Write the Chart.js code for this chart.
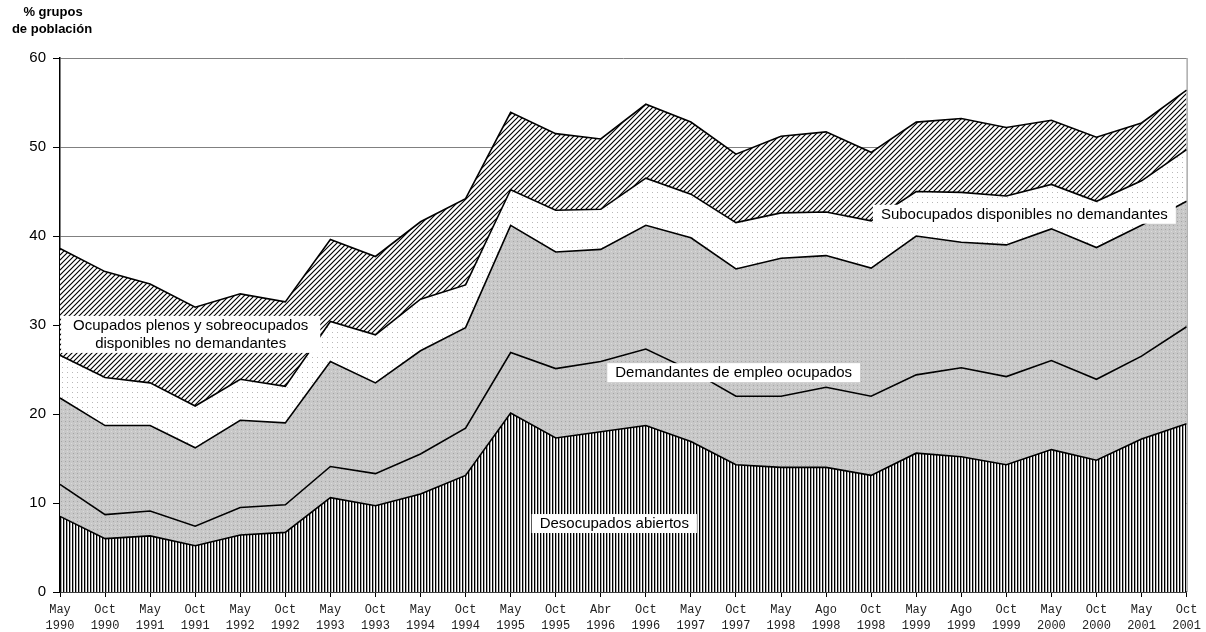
<!DOCTYPE html>
<html>
<head>
<meta charset="utf-8">
<script src="https://cdn.jsdelivr.net/npm/chart.js@4/dist/chart.umd.min.js"></script>
<style>
  html, body { margin: 0; padding: 0; background: #fff; }
  #wrap { width: 1206px; height: 632px; }
</style>
</head>
<body>
<div id="wrap"><canvas id="grafico"></canvas></div>
<script>
// Periodos de la encuesta (dos líneas por etiqueta)
const periodos = [
    ['May', '1990'], ['Oct', '1990'], ['May', '1991'], ['Oct', '1991'],
    ['May', '1992'], ['Oct', '1992'], ['May', '1993'], ['Oct', '1993'],
    ['May', '1994'], ['Oct', '1994'], ['May', '1995'], ['Oct', '1995'],
    ['Abr', '1996'], ['Oct', '1996'], ['May', '1997'], ['Oct', '1997'],
    ['May', '1998'], ['Ago', '1998'], ['Oct', '1998'], ['May', '1999'],
    ['Ago', '1999'], ['Oct', '1999'], ['May', '2000'], ['Oct', '2000'],
    ['May', '2001'], ['Oct', '2001']
];

// % de cada grupo de población (se apilan de abajo hacia arriba)
const desocupadosAbiertos = [8.5, 6.0, 6.3, 5.2, 6.4, 6.7, 10.6, 9.7, 11.0, 13.1, 20.1, 17.3, 18.0, 18.7, 16.9, 14.3, 14.0, 14.0, 13.1, 15.6, 15.2, 14.3, 16.0, 14.8, 17.2, 18.9];
const subocupadosDemandantes = [3.6, 2.7, 2.8, 2.2, 3.1, 3.1, 3.5, 3.6, 4.5, 5.3, 6.8, 7.8, 7.9, 8.6, 8.0, 7.7, 8.0, 9.0, 8.9, 8.8, 10.0, 9.9, 10.0, 9.1, 9.3, 10.9];
const ocupadosDemandantes = [9.7, 10.0, 9.6, 8.8, 9.8, 9.2, 11.8, 10.2, 11.6, 11.3, 14.3, 13.1, 12.6, 13.9, 14.9, 14.3, 15.5, 14.8, 14.4, 15.6, 14.1, 14.8, 14.8, 14.8, 14.7, 14.1];
const subocupadosNoDemandantes = [4.8, 5.4, 4.8, 4.7, 4.6, 4.1, 4.5, 5.4, 5.8, 4.8, 4.0, 4.7, 4.5, 5.3, 4.9, 5.2, 5.1, 4.9, 5.3, 5.0, 5.6, 5.5, 5.0, 5.2, 5.0, 5.8];
const ocupadosPlenosNoDemandantes = [12.0, 11.9, 11.1, 11.1, 9.6, 9.5, 9.2, 8.8, 8.7, 9.7, 8.7, 8.6, 7.9, 8.3, 8.1, 7.7, 8.6, 9.0, 7.7, 7.8, 8.3, 7.7, 7.2, 7.2, 6.5, 6.7];

const yTicks = [0, 10, 20, 30, 40, 50, 60];

// Rótulos dentro del gráfico: [texto, índice de periodo, valor]
const rotulos = [
    [['Ocupados plenos y sobreocupados', 'disponibles no demandantes'], 2.9, 29.0],
    [['Demandantes de empleo ocupados'], 14.95, 24.7],
    [['Desocupados abiertos'], 12.3, 7.75],
    [['Subocupados disponibles no demandantes'], 21.4, 42.5]
];

// Tramas estilo Excel
function trama(tipo) {
    const c = document.createElement('canvas');
    const t = c.getContext('2d');
    if (tipo === 'vertical') {
        c.width = 3; c.height = 3;
        t.fillStyle = '#fff'; t.fillRect(0, 0, 3, 3);
        t.fillStyle = '#000'; t.fillRect(0, 0, 1, 3);
        t.fillStyle = '#aaa'; t.fillRect(1, 0, 1, 3);
    } else if (tipo === 'gris') {
        c.width = 4; c.height = 4;
        t.fillStyle = '#c8c8c8'; t.fillRect(0, 0, 4, 4);
        t.fillStyle = '#a4a4a4'; t.fillRect(1, 1, 1, 1);
        t.fillStyle = '#dadada'; t.fillRect(3, 3, 1, 1);
    } else if (tipo === 'puntos') {
        c.width = 5; c.height = 5;
        t.fillStyle = '#fff'; t.fillRect(0, 0, 5, 5);
        t.fillStyle = '#b8b8b8'; t.fillRect(2, 2, 1, 1);
    } else {
        c.width = 5; c.height = 5;
        t.fillStyle = '#fff'; t.fillRect(0, 0, 5, 5);
        t.strokeStyle = '#000'; t.lineWidth = 1.15;
        t.beginPath();
        t.moveTo(-1, 6); t.lineTo(6, -1);
        t.moveTo(-1, 1); t.lineTo(1, -1);
        t.moveTo(4, 6); t.lineTo(6, 4);
        t.stroke();
    }
    return t.createPattern(c, 'repeat');
}

function serie(label, data, fondo, fill) {
    return {
        label: label,
        data: data,
        backgroundColor: fondo,
        borderColor: '#000',
        borderWidth: 1.6,
        pointRadius: 0,
        tension: 0,
        fill: fill
    };
}

// Título del eje, rótulos y borde derecho
const extras = {
    id: 'extras',
    afterDatasetsDraw(chart) {
        const ctx = chart.ctx;
        const area = chart.chartArea;
        const x = chart.scales.x;
        const y = chart.scales.y;

        ctx.save();
        ctx.strokeStyle = '#808080';
        ctx.lineWidth = 1;
        ctx.beginPath();
        ctx.moveTo(area.right + 0.5, area.top);
        ctx.lineTo(area.right + 0.5, area.bottom);
        ctx.stroke();

        ctx.font = '15px "Liberation Sans", Arial, sans-serif';
        ctx.textAlign = 'center';
        ctx.textBaseline = 'middle';
        rotulos.forEach(function(r) {
            const lineas = r[0];
            const cx = x.getPixelForValue(r[1]);
            const cy = y.getPixelForValue(r[2]);
            const alto = 18;
            const ancho = Math.max.apply(null, lineas.map(l => ctx.measureText(l).width));
            const top = cy - alto * lineas.length / 2;
            const pad = lineas.length > 1 ? 12 : 8;
            ctx.fillStyle = '#fff';
            ctx.fillRect(cx - ancho / 2 - pad, top, ancho + pad * 2, alto * lineas.length + 1);
            ctx.fillStyle = '#000';
            lineas.forEach(function(l, i) {
                ctx.fillText(l, cx, top + alto * i + alto / 2 + 1);
            });
        });

        ctx.font = 'bold 13px "Liberation Sans", Arial, sans-serif';
        ctx.fillText('% grupos', 53, 12);
        ctx.fillText('de población', 52, 29);
        ctx.restore();
    }
};

new Chart(document.getElementById('grafico'), {
    type: 'line',
    data: {
        labels: periodos,
        datasets: [
            serie('Desocupados abiertos', desocupadosAbiertos, trama('vertical'), 'origin'),
            serie('Subocupados demandantes', subocupadosDemandantes, trama('gris'), '-1'),
            serie('Demandantes de empleo ocupados', ocupadosDemandantes, trama('gris'), '-1'),
            serie('Subocupados disponibles no demandantes', subocupadosNoDemandantes, trama('puntos'), '-1'),
            serie('Ocupados plenos y sobreocupados disponibles no demandantes', ocupadosPlenosNoDemandantes, trama('diagonal'), '-1')
        ]
    },
    options: {
        responsive: true,
        maintainAspectRatio: false,
        animation: false,
        layout: { padding: { left: 0, right: 15, top: 58, bottom: 0 } },
        plugins: {
            legend: { display: false },
            tooltip: { enabled: false }
        },
        scales: {
            x: {
                offset: false,
                grid: {
                    drawOnChartArea: false,
                    drawTicks: true,
                    tickLength: 5,
                    tickColor: '#000'
                },
                border: { color: '#000', width: 1.5 },
                ticks: {
                    autoSkip: false,
                    maxRotation: 0,
                    padding: 5,
                    color: '#222',
                    font: { family: '"Liberation Mono", "Courier New", monospace', size: 12, lineHeight: 1.3 }
                },
                afterFit: function(s) { s.height = 40; }
            },
            y: {
                stacked: true,
                min: 0,
                max: 60,
                afterBuildTicks: function(s) { s.ticks = yTicks.map(v => ({ value: v })); },
                grid: {
                    color: '#808080',
                    lineWidth: 1,
                    drawTicks: true,
                    tickLength: 7,
                    tickColor: '#000'
                },
                border: { color: '#000', width: 1.5 },
                ticks: {
                    padding: 7,
                    color: '#000',
                    font: { family: '"Liberation Sans", Arial, sans-serif', size: 15 }
                },
                afterFit: function(s) { s.width = 60; }
            }
        }
    },
    plugins: [extras]
});
</script>
</body>
</html>
